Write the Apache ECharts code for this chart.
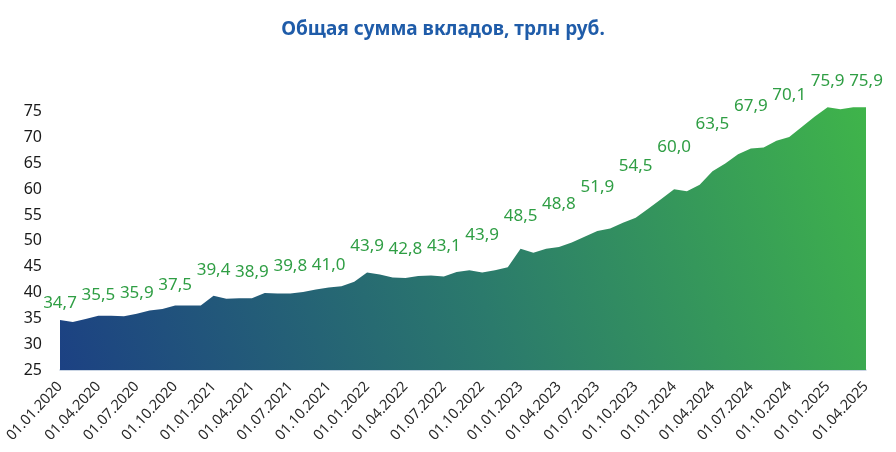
<!DOCTYPE html>
<html>
<head>
<meta charset="utf-8">
<script src="https://cdn.jsdelivr.net/npm/echarts@6/dist/echarts.min.js"></script>
<style>
html,body{margin:0;padding:0;background:#fff;}
#c{width:896px;height:452px;}
</style>
</head>
<body>
<div id="c"></div>
<script>
// Categories: monthly dates
var categories = [
'01.01.2020','01.02.2020','01.03.2020','01.04.2020','01.05.2020','01.06.2020','01.07.2020','01.08.2020','01.09.2020','01.10.2020','01.11.2020','01.12.2020',
'01.01.2021','01.02.2021','01.03.2021','01.04.2021','01.05.2021','01.06.2021','01.07.2021','01.08.2021','01.09.2021','01.10.2021','01.11.2021','01.12.2021',
'01.01.2022','01.02.2022','01.03.2022','01.04.2022','01.05.2022','01.06.2022','01.07.2022','01.08.2022','01.09.2022','01.10.2022','01.11.2022','01.12.2022',
'01.01.2023','01.02.2023','01.03.2023','01.04.2023','01.05.2023','01.06.2023','01.07.2023','01.08.2023','01.09.2023','01.10.2023','01.11.2023','01.12.2023',
'01.01.2024','01.02.2024','01.03.2024','01.04.2024','01.05.2024','01.06.2024','01.07.2024','01.08.2024','01.09.2024','01.10.2024','01.11.2024','01.12.2024',
'01.01.2025','01.02.2025','01.03.2025','01.04.2025'
];
// Total deposits, trillion rubles (monthly)
var deposits = [
34.7,34.3,34.9,35.5,35.5,35.4,35.9,36.5,36.8,37.5,37.5,37.5,
39.4,38.8,38.9,38.9,39.9,39.8,39.8,40.1,40.6,41.0,41.2,42.1,
43.9,43.5,42.9,42.8,43.2,43.3,43.1,44.0,44.3,43.9,44.3,44.9,
48.5,47.7,48.5,48.8,49.7,50.8,51.9,52.4,53.5,54.5,56.3,58.1,
60.0,59.6,60.9,63.5,65.0,66.8,67.9,68.1,69.4,70.1,72.1,74.1,
75.9,75.5,75.9,75.9
];
// Y-axis tick labels
var yTicks = [25,30,35,40,45,50,55,60,65,70,75];
// Label styling: vertical lift (px) of each quarterly data label above its point
var labelLift = [17,21,21,20,25,26,27,22,26,29,30,37,32,43,44,52,42,47,42,42,26,26];

var labelStep = 3;
var seriesData = deposits.map(function(v, i){
  var item = {value: v};
  if (i % labelStep === 0) {
    var lift = labelLift[i / labelStep];
    item.label = {show: true, distance: lift - 9};
  } else {
    item.label = {show: false};
  }
  return item;
});

var chart = echarts.init(document.getElementById('c'), null, {renderer:'canvas'});
chart.setOption({
  animation: false,
  backgroundColor: '#ffffff',
  title: {
    text: 'Общая сумма вкладов, трлн руб.',
    left: 438, top: 15, textAlign: 'center',
    textStyle: {fontFamily: 'Noto Sans', fontWeight: 'bold', fontSize: 19, color: '#1f5ca9'}
  },
  grid: {left: 60, right: 30, top: 86, bottom: 82, containLabel: false},
  xAxis: {
    type: 'category',
    data: categories,
    boundaryGap: false,
    axisLine: {show: true, lineStyle: {color: '#b9c8dc', width: 1.5}},
    axisTick: {show: false},
    splitLine: {show: false},
    axisLabel: {
      interval: labelStep - 1,
      rotate: 47,
      margin: 14,
      fontFamily: 'Noto Sans',
      fontSize: 14.5,
      color: '#2a2a2a'
    }
  },
  yAxis: {
    type: 'value',
    min: 25, max: 80, interval: 5,
    axisLine: {show: false},
    axisTick: {show: false},
    splitLine: {show: false},
    axisLabel: {
      margin: 18,
      fontFamily: 'Noto Sans',
      fontSize: 16,
      color: '#1a1a1a',
      formatter: function(v){ return yTicks.indexOf(v) >= 0 ? String(v) : ''; }
    }
  },
  series: [{
    type: 'line',
    data: seriesData,
    showSymbol: true,
    showAllSymbol: true,
    symbol: 'circle',
    symbolSize: 1,
    itemStyle: {color: 'rgba(255,255,255,0)', borderWidth: 0},
    lineStyle: {width: 0},
    areaStyle: {
      opacity: 1,
      color: new echarts.graphic.LinearGradient(0, 1, 1, 0, [
        {offset: 0, color: '#1c4183'},
        {offset: 0.5, color: '#2b7a6c'},
        {offset: 1, color: '#3fb44a'}
      ])
    },
    label: {
      show: true,
      position: 'top',
      fontFamily: 'Noto Sans',
      fontSize: 17,
      color: '#2f9e44',
      formatter: function(p){ return p.value.toFixed(1).replace('.', ','); }
    },
    labelLayout: {hideOverlap: false}
  }]
});
</script>
</body>
</html>
